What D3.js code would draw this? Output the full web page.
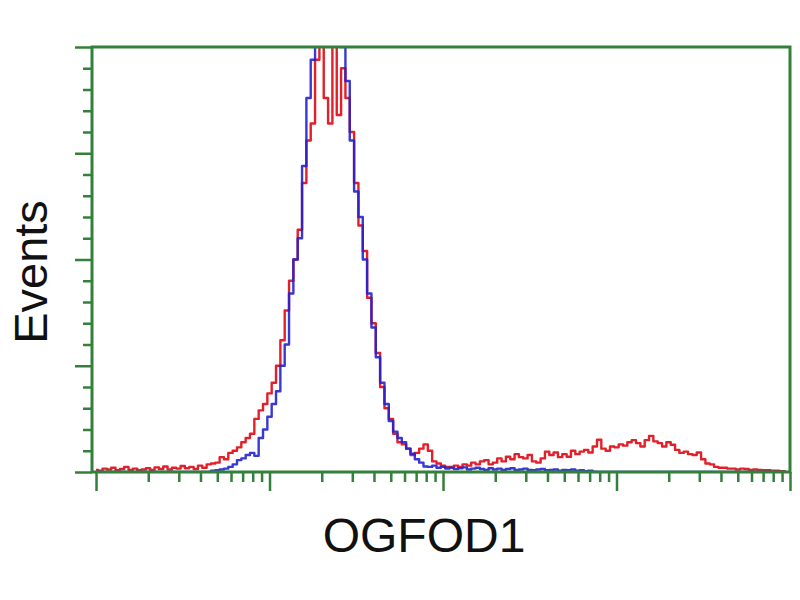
<!DOCTYPE html>
<html>
<head>
<meta charset="utf-8">
<script src="https://cdn.jsdelivr.net/npm/d3@7"></script>
<style>
  html, body { margin: 0; padding: 0; background: #fff; }
  svg { display: block; }
</style>
</head>
<body>
<svg id="chart" width="800" height="600"></svg>
<script>
// Bin centres, in decades of fluorescence (log10)
const binDecades = [
  0,0.025,0.05,0.075,0.1,0.125,0.15,0.175,0.2,0.225,0.25,0.275,0.3,0.325,0.35,0.375,0.4,0.425,0.45,0.475,
  0.5,0.525,0.55,0.575,0.6,0.625,0.65,0.675,0.7,0.725,0.75,0.775,0.8,0.825,0.85,0.875,0.9,0.925,0.95,0.975,
  1,1.025,1.05,1.075,1.1,1.125,1.15,1.175,1.2,1.225,1.25,1.275,1.3,1.325,1.35,1.375,1.4,1.425,1.45,1.475,
  1.5,1.525,1.55,1.575,1.6,1.625,1.65,1.675,1.7,1.725,1.75,1.775,1.8,1.825,1.85,1.875,1.9,1.925,1.95,1.975,
  2,2.025,2.05,2.075,2.1,2.125,2.15,2.175,2.2,2.225,2.25,2.275,2.3,2.325,2.35,2.375,2.4,2.425,2.45,2.475,
  2.5,2.525,2.55,2.575,2.6,2.625,2.65,2.675,2.7,2.725,2.75,2.775,2.8,2.825,2.85,2.875,2.9,2.925,2.95,2.975,
  3,3.025,3.05,3.075,3.1,3.125,3.15,3.175,3.2,3.225,3.25,3.275,3.3,3.325,3.35,3.375,3.4,3.425,3.45,3.475,
  3.5,3.525,3.55,3.575,3.6,3.625,3.65,3.675,3.7,3.725,3.75,3.775,3.8,3.825,3.85,3.875,3.9,3.925,3.95,3.975
];

// Control (blue) events, % of the plot's full scale (values > 100 are clipped)
const controlEvents = [
  0,0,0,0,0,0,0,0,0,0, 0,0,0,0,0,0,0,0,0,0,
  0,0,0,0,0,0,0,0.3,0.4,0.6, 0.8,1.2,1.8,2.8,3.2,4.0,4.5,3.8,8,10,
  13,16,19,25,30,42,50,55,72,88, 97,102,104,103,102,104,103,100,92,78,
  66,60,50,42,34,27,21,16,12,9.5, 8,7,5.5,4.3,3,2.2,1.3,1.2,1.5,1.0,
  1.2,0.8,1.0,0.7,0.9,1.1,0.6,0.8,1.0,0.7, 0.5,0.9,0.6,0.8,0.5,0.7,0.9,0.5,0.6,0.8,
  0.5,0.4,0.6,0.7,0.4,0.5,0.6,0.3,0.5,0.4, 0.6,0.3,0.4,0.2,0.3,0.1,0,0,0,0,
  0,0,0,0,0,0,0,0,0,0, 0,0,0,0,0,0,0,0,0,0,
  0,0,0,0,0,0,0,0,0,0, 0,0,0,0,0,0,0,0,0,0
];

// OGFOD1-stained (red) events, % of full scale
const stainedEvents = [
  0.5,0.3,0.8,0.6,1.0,0.4,0.7,1.2,0.5,0.8, 0.4,0.6,0.9,0.5,1.1,0.7,1.3,0.6,1.0,0.8,
  1.4,0.9,1.2,0.7,1.5,1.0,1.8,2.0,2.2,3.5, 3.0,4.5,5.0,5.8,7.0,8.0,9.0,12.5,14.5,16,
  18.5,21,25,31,38,45,50,57,68,78, 82,97,104,88,82,104,84,95,88,80,
  68,58,52,41,35,28,20,15,12.5,9, 7,6.5,5.5,4,4.5,5.5,6.5,5,2.5,2,
  1.5,1.2,1.2,1.5,1.2,1.8,1.5,2.2,1.8,2.5, 2.8,1.8,2.2,3.2,2.5,3.6,3.0,4.2,3.5,3.2,
  4.0,2.5,2.2,3.2,4.8,4.0,4.6,3.5,4.2,3.6, 5.0,4.2,4.8,5.2,4.6,6.0,7.6,5.5,5.0,6.0,
  5.8,6.5,6.2,7.0,7.5,6.8,6.0,7.5,8.5,7.2, 6.8,6.0,7.0,6.4,5.2,4.5,4.8,4.2,4.0,4.6,
  3.0,2.0,1.8,1.2,1.0,1.0,0.8,0.8,0.6,0.8, 0.7,0.5,0.6,0.5,0.4,0.4,0.3,0.3,0.2,0.2
];

const xMajorTicks = [1, 10, 100, 1000, 10000];
const yMajorTicks = [0, 25, 50, 75, 100];
const xLabel = "OGFOD1";
const yLabel = "Events";

(function () {
const svg = d3.select("#chart");
const pL = 92, pR = 790, pT = 47, pB = 472;
const green = "#33803a";

const x = d3.scaleLog().domain([0.948, 10000]).range([pL, pR]);
const y = d3.scaleLinear().domain([0, 100]).range([pB, pT]);

// minor ticks
const xMinor = [];
[1, 10, 100, 1000].forEach(d => { for (let m = 2; m <= 9; m++) xMinor.push(d * m); });
const yMinor = d3.range(5, 100, 5).filter(v => v % 25 !== 0);

svg.append("defs").append("clipPath").attr("id", "plotclip")
  .append("rect").attr("x", pL).attr("y", pT).attr("width", pR - pL).attr("height", pB - pT);

const mkLine = vals => d3.line()
  .x((d, i) => x(Math.pow(10, binDecades[i])))
  .y(d => y(d))
  .curve(d3.curveStep)(vals);

const plot = svg.append("g").attr("clip-path", "url(#plotclip)");
plot.append("path").attr("d", mkLine(stainedEvents))
  .attr("fill", "none").attr("stroke", "#e3202a").attr("stroke-width", 2.4).attr("stroke-linejoin", "round");
plot.append("path").attr("d", mkLine(controlEvents))
  .attr("fill", "none").attr("stroke", "#2222d0").attr("stroke-width", 2.4).attr("stroke-linejoin", "round").attr("opacity", 0.9);

function styleAxis(g) {
  g.select(".domain").remove();
  g.selectAll(".tick line").attr("stroke", green).attr("stroke-width", 2.5);
  g.selectAll(".tick text").remove();
}

svg.append("g").attr("transform", `translate(0,${pB})`)
  .call(d3.axisBottom(x).tickValues(xMajorTicks).tickSize(19).tickFormat("")).call(styleAxis);
svg.append("g").attr("transform", `translate(0,${pB})`)
  .call(d3.axisBottom(x).tickValues(xMinor).tickSize(10).tickFormat("")).call(styleAxis);
svg.append("g").attr("transform", `translate(${pL},0)`)
  .call(d3.axisLeft(y).tickValues(yMajorTicks).tickSize(17).tickFormat("")).call(styleAxis);
svg.append("g").attr("transform", `translate(${pL},0)`)
  .call(d3.axisLeft(y).tickValues(yMinor).tickSize(9).tickFormat("")).call(styleAxis);

svg.append("rect").attr("x", pL).attr("y", pT).attr("width", pR - pL).attr("height", pB - pT)
  .attr("fill", "none").attr("stroke", green).attr("stroke-width", 3);

svg.append("text").attr("x", 424).attr("y", 552).attr("text-anchor", "middle")
  .attr("font-family", "Liberation Sans, Arial, sans-serif").attr("font-size", 48).attr("fill", "#111")
  .text(xLabel);
svg.append("text").attr("transform", "translate(47,272) rotate(-90)").attr("text-anchor", "middle")
  .attr("font-family", "Liberation Sans, Arial, sans-serif").attr("font-size", 47).attr("fill", "#111")
  .text(yLabel);
})();
</script>
</body>
</html>
